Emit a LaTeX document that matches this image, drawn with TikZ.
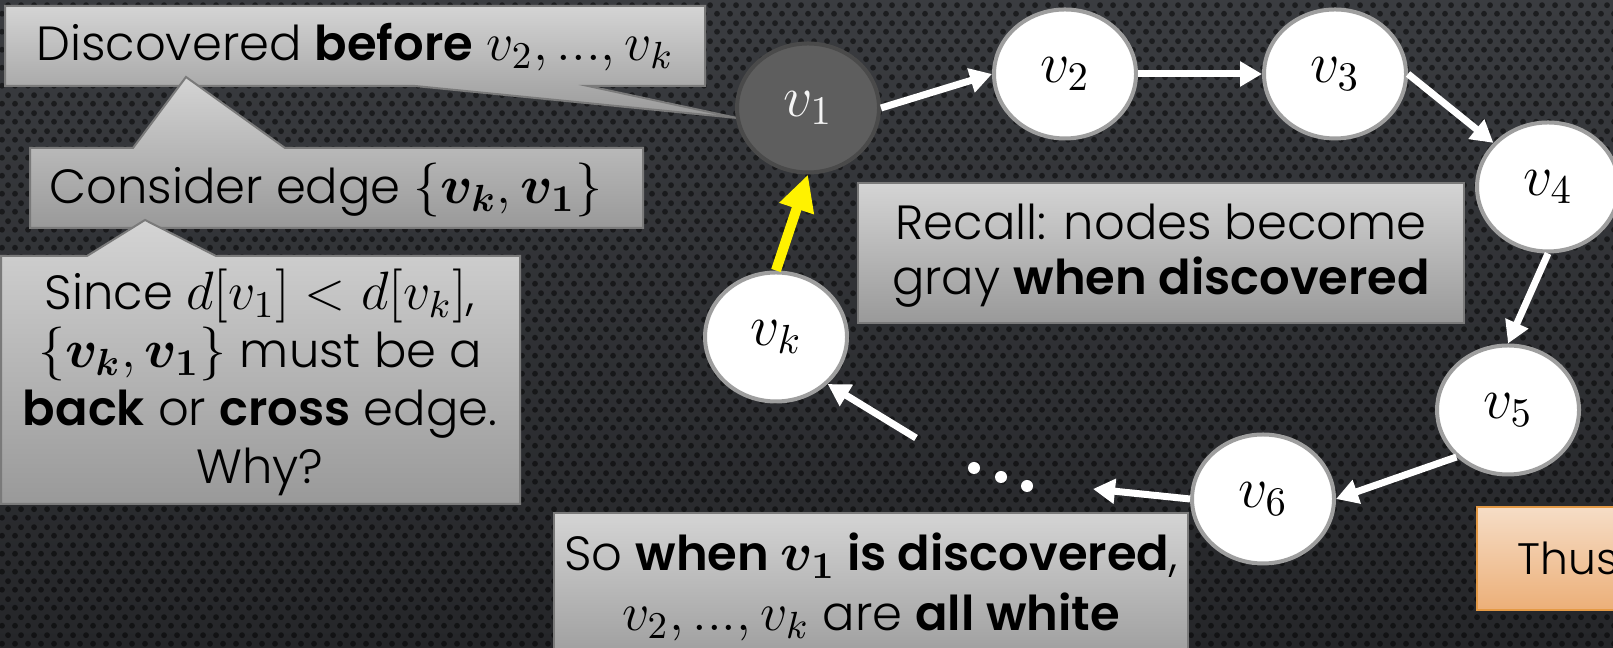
\RequirePackage{fix-cm}
\documentclass[tikz,border=0pt]{standalone}
\usepackage{amsmath}
\usepackage{bm}
\usepackage{fontspec}
\setmainfont{Poppins}[UprightFont=* Light, BoldFont=* SemiBold]
\usetikzlibrary{shapes.geometric,arrows.meta,patterns.meta}
\definecolor{bgtop}{HTML}{3A3C40}
\definecolor{bgbot}{HTML}{252629}
\definecolor{boxtop}{HTML}{D4D4D4}
\definecolor{boxbot}{HTML}{999999}
\definecolor{boxedge}{HTML}{7A7A7A}
\definecolor{vborder}{HTML}{9E9E9E}
\definecolor{vonefill}{HTML}{5E5E5E}
\definecolor{voneborder}{HTML}{4A4A4A}
\definecolor{ortop}{HTML}{F6DDC6}
\definecolor{orbot}{HTML}{ECAF78}
\definecolor{oredge}{HTML}{E59A45}
\newcommand\mth[1]{{\fontsize{13.5}{15}\selectfont$#1$}}
\newcommand\vdts{{.}{.}{.}}
\tikzdeclarepattern{
  name=carbon,
  type=uncolored,
  bounding box={(0pt,0pt) and (3.25pt,4.5pt)},
  tile size={(3.25pt,4.5pt)},
  code={
    \fill (0.8125pt,1.125pt) circle[radius=0.78pt];
    \fill (2.4375pt,3.375pt) circle[radius=0.78pt];
  }
}
\tikzset{
 vtx/.style={ellipse, draw=vborder, line width=1pt, fill=white, minimum width=35.5pt, minimum height=32.25pt, inner sep=0pt, font=\fontsize{14.5}{17}\selectfont},
 grayvtx/.style={vtx, fill=vonefill, draw=voneborder, text=white!92!gray},
 arr/.style={draw=white, line width=1.75pt, -{Triangle[length=5.5pt,width=6pt]}},
 yarr/.style={draw=yellow, line width=2.5pt, -{Triangle[length=9pt,width=8.5pt]}},
 callout/.style={top color=boxtop, bottom color=boxbot, draw=boxedge, line width=0.5pt},
 orbox/.style={top color=ortop, bottom color=orbot, draw=oredge, line width=0.6pt},
 txt/.style={font=\fontsize{12}{14.5}\selectfont, align=center, text=black, inner sep=0pt},
}
\begin{document}
\begin{tikzpicture}[x=0.25pt,y=-0.25pt]
\useasboundingbox (0,0) rectangle (1613,648);
\clip (0,0) rectangle (1613,648);
\shade[top color=bgtop, bottom color=bgbot] (0,0) rectangle (1613,648);
\fill[pattern=carbon, pattern color=black, fill opacity=0.5] (0,0) rectangle (1613,648);

% callout A
\path[callout] (5,6) -- (705,6) -- (705,86) -- (588,86) -- (737,118) -- (415,86) -- (5,86) -- cycle;
\node[txt] (ta) at (355,47) {Discovered \textbf{before} \mth{v_2,\vdts,v_k}};
% callout B
\path[callout] (30,148) -- (133,148) -- (186,77) -- (285,148) -- (643,148) -- (643,228) -- (30,228) -- cycle;
\node[txt] (tb) at (326,190) {Consider edge \mth{\{\bm{v_k},\bm{v_1}\}}};
% callout C
\path[callout] (1,256) -- (87,256) -- (145,220) -- (216,256) -- (520,256) -- (520,504) -- (1,504) -- cycle;
\node[txt] (tc) at (260,382) {Since \mth{d[v_1]<d[v_k]},\\ \mth{\{\bm{v_k},\bm{v_1}\}} must be a\\ \textbf{back} or \textbf{cross} edge.\\ Why?};
% box D
\path[callout] (858,183) rectangle (1464,323);
\node[txt, font=\fontsize{12}{13.75}\selectfont] (td) at (1161,256) {Recall: nodes become\\ gray \textbf{when discovered}};
% box E
\path[callout] (554,513) rectangle (1188,670);
\node[txt, font=\fontsize{12}{15}\selectfont] (te) at (871,587) {So \textbf{when \mth{\bm{v_1}} is discovered},\\ \mth{v_2,\vdts,v_k} are \textbf{all white}};
% box F
\path[orbox] (1477,507) rectangle (1660,610);
\node[txt, anchor=west, font=\fontsize{11}{13}\selectfont] (tf) at (1517,558) {Thus};

% vertices
\node[grayvtx] (v1) at (808,108) {$v_1$};
\node[vtx] (v2) at (1065,74) {$v_2$};
\node[vtx] (v3) at (1335,74) {$v_3$};
\node[vtx] (v4) at (1548,187) {$v_4$};
\node[vtx] (v5) at (1508,410) {$v_5$};
\node[vtx] (v6) at (1263,499) {$v_6$};
\node[vtx] (vk) at (776,337) {$v_k$};

% dots
\fill[white] (974,468) circle[radius=1.5pt] (1001,477) circle[radius=1.5pt] (1027,486) circle[radius=1.5pt];
\coordinate (d6) at (1093,489);
\coordinate (dk) at (916,438);

% edges
\draw[arr] (v1.east) -- (v2.west);
\draw[arr] (v2.east) -- (v3.west);
\draw[arr] (v3.east) -- (v4);
\draw[arr] (v4.south) -- (v5.north);
\draw[arr] (v5.south west) -- (v6.east);
\draw[arr] (v6.west) -- (d6);
\draw[arr] (dk) -- (vk.south east);
\draw[yarr] (vk.north) -- (v1.south);
\end{tikzpicture}
\end{document}
